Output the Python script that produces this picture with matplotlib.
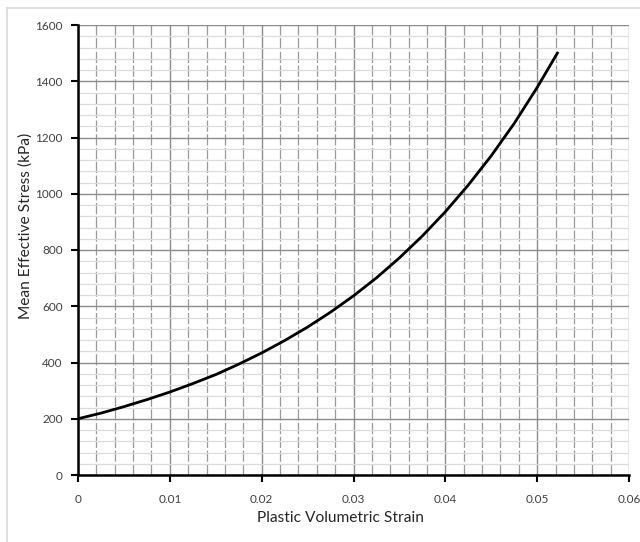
import matplotlib
matplotlib.use("Agg")
import matplotlib.pyplot as plt
from matplotlib.ticker import MultipleLocator, FuncFormatter
from matplotlib.patches import Rectangle

plt.rcParams['font.family'] = ['Lato', 'DejaVu Sans']

strain = [0.0, 0.0025, 0.005, 0.0075, 0.01, 0.0125, 0.015, 0.0175, 0.02, 0.0225,
          0.025, 0.0275, 0.03, 0.0325, 0.035, 0.0375, 0.04, 0.0425, 0.045, 0.0475,
          0.05, 0.0522]
stress = [200, 220, 243, 268, 295, 325, 357, 394, 434, 478,
          526, 579, 637, 701, 772, 850, 936, 1031, 1135, 1250,
          1378, 1500]

xlabel = "Plastic Volumetric Strain"
ylabel = "Mean Effective Stress (kPa)"

fig = plt.figure(figsize=(6.4, 5.42), dpi=100)
fig.patches.append(Rectangle((7/640, -0.1), 1.2, 1 - 8/542 + 0.1, transform=fig.transFigure,
                             fill=False, edgecolor='#d9d9d9', linewidth=1.2))
ax = fig.add_axes([78/640, 1 - 475/542, (629 - 78)/640, (475 - 25)/542])

ax.set_xlim(0, 0.06)
ax.set_ylim(0, 1600)
ax.xaxis.set_major_locator(MultipleLocator(0.01))
ax.xaxis.set_minor_locator(MultipleLocator(0.002))
ax.yaxis.set_major_locator(MultipleLocator(200))
ax.yaxis.set_minor_locator(MultipleLocator(40))

ax.grid(which='major', axis='both', color='#8c8c8c', linewidth=1.0)
ax.grid(which='minor', axis='x', color='#9a9a9a', linewidth=0.9, linestyle=(0, (9, 2)))
ax.grid(which='minor', axis='y', color='#dcdcdc', linewidth=0.9)
ax.set_axisbelow(True)

ax.plot(strain, stress, color='black', linewidth=2.0, zorder=5)

ax.xaxis.set_major_formatter(FuncFormatter(lambda v, p: '0' if abs(v) < 1e-12 else f'{v:.2f}'))

for s in ['top', 'right']:
    ax.spines[s].set_visible(False)
for s in ['left', 'bottom']:
    ax.spines[s].set_linewidth(1.8)
    ax.spines[s].set_color('black')
    ax.spines[s].set_zorder(6)

ax.tick_params(which='major', length=5, width=1.5, color='black', labelsize=8.5, labelcolor='#404040', pad=6)
ax.tick_params(axis='x', which='major', pad=9)
ax.tick_params(which='minor', length=0)

fig.text(340/640, 1 - 518/542, xlabel, fontsize=11.2, color='#262626', ha='center', va='center')
fig.text(26/640, 1 - 226/542, ylabel, fontsize=11.2, color='#262626', ha='center', va='center',
         rotation=90)

fig.savefig("out.png", dpi=100)
